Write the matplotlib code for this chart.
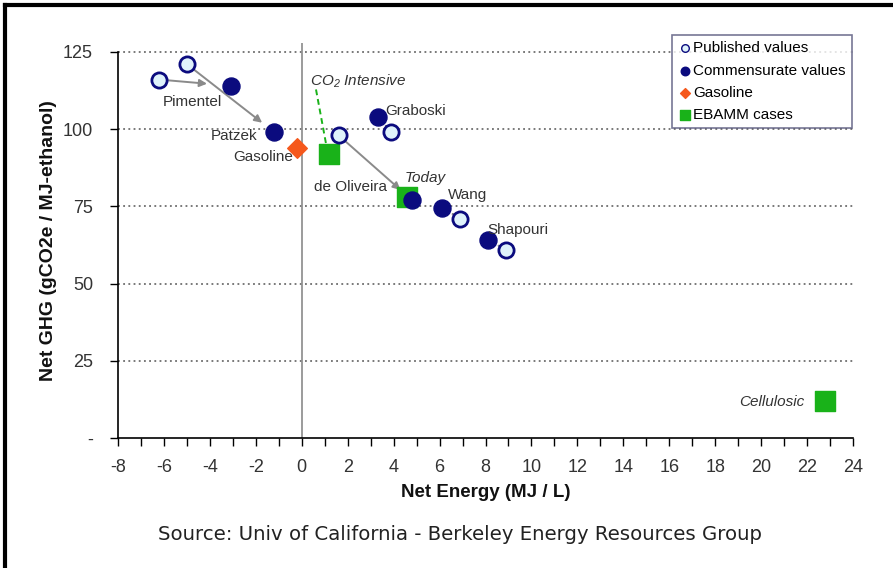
import matplotlib
matplotlib.use("Agg")
import matplotlib.pyplot as plt
from matplotlib.lines import Line2D
from matplotlib.ticker import FixedLocator, FuncFormatter

plt.rcParams['font.family'] = ['Liberation Sans', 'DejaVu Sans']
plt.rcParams['mathtext.fontset'] = 'custom'
plt.rcParams['mathtext.rm'] = 'Liberation Sans:italic'
plt.rcParams['mathtext.it'] = 'Liberation Sans:italic'
plt.rcParams['axes.unicode_minus'] = False

# ---- data ----
study_names = ["Pimentel", "Patzek", "de Oliveira", "Graboski", "Wang", "Shapouri"]
published_x = [-6.2, -5.0, 1.6, 3.9, 6.9, 8.9]
published_y = [116, 121, 98, 99, 71, 61]
commens_x = [-3.1, -1.2, 4.8, 3.3, 6.1, 8.1]
commens_y = [114, 99, 77, 104, 74.5, 64]
gasoline_x = [-0.2]
gasoline_y = [94]
ebamm_names = ["CO2 Intensive", "Today", "Cellulosic"]
ebamm_x = [1.2, 4.6, 22.8]
ebamm_y = [92, 78, 12]

x_ticks = list(range(-8, 25, 2))
y_ticks = [0, 25, 50, 75, 100, 125]

NAVY = "#0b0b7e"
LIGHT = "#dff2fb"
ORANGE = "#f5581c"
GREEN = "#19b219"
GRAY = "#8a8a8a"
TXT = "#333333"

fig = plt.figure(figsize=(8.93, 5.68), dpi=100)
ax = fig.add_axes([118/893, 1-438/568, 735/893, (438-42.5)/568])
ax.set_xlim(-8, 24)
ax.set_ylim(0, 128)

# grid lines
for yv in y_ticks[1:]:
    ax.plot([-8, 24], [yv, yv], ls=(0, (1.2, 2.2)), color="#555555", lw=1.1, zorder=1)
ax.axvline(0, color="#8a8a8a", lw=1.2, zorder=1)

# arrows published -> commensurate (stop short of the commensurate point)
arrow_shrink = [17, 11, 11, 8, 8, 8]
for i in range(len(study_names)):
    ax.annotate("", xy=(commens_x[i], commens_y[i]), xytext=(published_x[i], published_y[i]),
                arrowprops=dict(arrowstyle="-|>", color=GRAY, lw=1.4, mutation_scale=11,
                                shrinkA=6, shrinkB=arrow_shrink[i]), zorder=2)

# CO2 intensive dashed connector
ax.plot([0.62, ebamm_x[0] - 0.1], [112.8, ebamm_y[0] + 1.5], ls=(0, (3, 2)), color=GREEN, lw=1.4, zorder=2)

ax.scatter(published_x, published_y, s=120, facecolor=LIGHT, edgecolor=NAVY, linewidth=2.0, zorder=4,
           label="Published values")
ax.scatter(commens_x, commens_y, s=150, color=NAVY, zorder=5, label="Commensurate values")
ax.scatter(gasoline_x, gasoline_y, s=100, marker="D", color=ORANGE, zorder=5, label="Gasoline")
ax.scatter(ebamm_x, ebamm_y, s=190, marker="s", color=GREEN, zorder=3, label="EBAMM cases")

# labels
label_pos = {"Pimentel": (-4.77, 108.6), "Patzek": (-2.95, 97.6), "de Oliveira": (2.14, 81.1),
             "Graboski": (4.97, 105.7), "Wang": (7.24, 78.5), "Shapouri": (9.42, 67.4)}
for n in study_names:
    ax.text(*label_pos[n], n, fontsize=11, color=TXT, ha="center", va="center", zorder=6)
ax.text(-1.68, 91.1, "Gasoline", fontsize=11, color=TXT, ha="center", va="center", zorder=6)
ax.text(0.36, 115.3, "CO$_2$ Intensive", fontsize=11, color=TXT, ha="left", va="center", style="italic")
ax.text(5.37, 84.3, "Today", fontsize=11, color=TXT, ha="center", va="center", style="italic")
ax.text(21.9, 11.7, "Cellulosic", fontsize=11, color=TXT, ha="right", va="center", style="italic")

# axes styling
for s in ["top", "right"]:
    ax.spines[s].set_visible(False)
ax.spines["left"].set_bounds(0, 125)
ax.spines["left"].set_linewidth(1.2)
ax.spines["bottom"].set_linewidth(1.2)
ax.set_xticks(x_ticks)
ax.xaxis.set_minor_locator(FixedLocator(list(range(-7, 24, 2))))
ax.set_yticks(y_ticks)
ax.yaxis.set_major_formatter(FuncFormatter(lambda v, p: "-" if v == 0 else f"{int(v)}"))
ax.tick_params(axis="x", which="both", length=6, width=1, direction="out", colors="black", labelcolor=TXT, pad=9)
ax.tick_params(axis="y", length=6, width=1, direction="out", colors="black", labelcolor=TXT, pad=12)
for lab in ax.get_xticklabels():
    lab.set_fontsize(13)
for lab in ax.get_yticklabels():
    lab.set_fontsize(13)

ax.set_xlabel("Net Energy (MJ / L)", fontsize=13.5, fontweight="bold", color="#111111", labelpad=6)
ax.set_ylabel("Net GHG (gCO2e / MJ-ethanol)", fontsize=14, fontweight="bold", color="#111111", labelpad=4)

leg = fig.legend(loc="upper right", bbox_to_anchor=(852/893, 1-35/568), fontsize=11,
                 frameon=True, fancybox=False, edgecolor="#55557a", borderpad=0.4,
                 handletextpad=0.1, handlelength=0.9, labelspacing=0.55, markerscale=0.5,
                 borderaxespad=0)
leg.get_frame().set_linewidth(1.2)
for h in leg.legend_handles[:1]:
    h.set_linewidth(1.0)

fig.text(460/893, 1-535/568, "Source: Univ of California - Berkeley Energy Resources Group",
         fontsize=14.2, family="DejaVu Sans", color="#222222", ha="center", va="center")

# frame lines
fig.add_artist(Line2D([5/893, 1], [1-5/568, 1-5/568], color="black", lw=3, transform=fig.transFigure))
fig.add_artist(Line2D([5/893, 5/893], [0, 1-5/568], color="black", lw=3, transform=fig.transFigure))

fig.savefig("out.png", dpi=100)
